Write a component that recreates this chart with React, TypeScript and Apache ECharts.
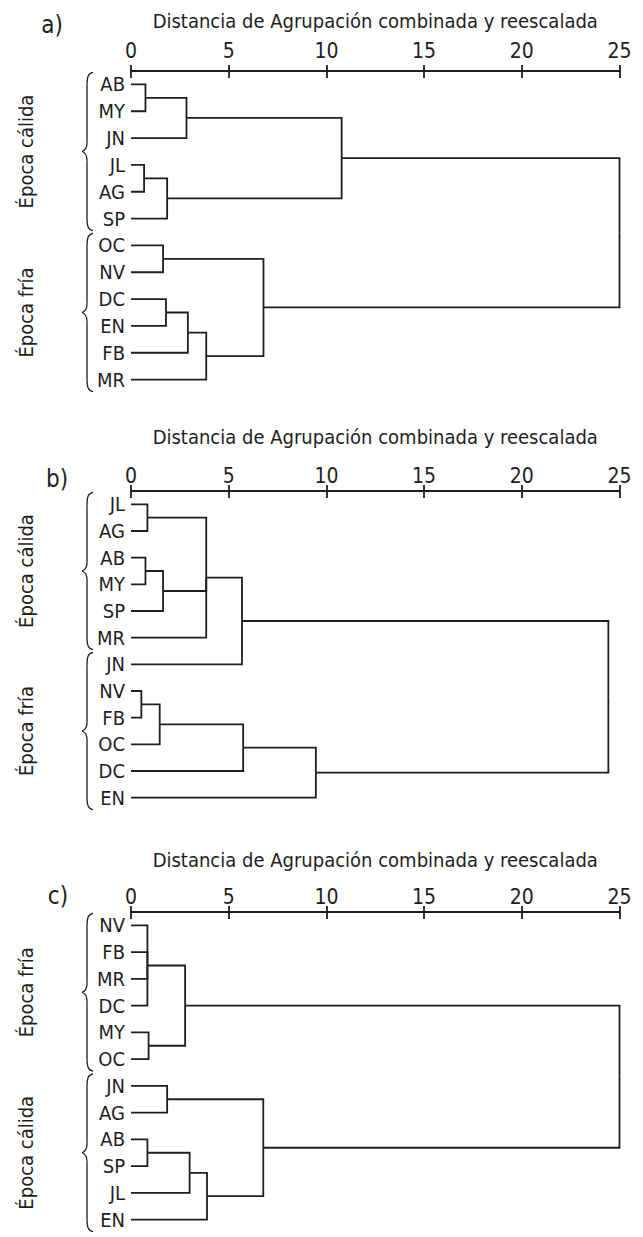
import React, { useEffect, useRef } from "react";
import * as echarts from "echarts";

const FONT = '"Liberation Sans Narrow", "Arial Narrow", "DejaVu Sans Condensed", sans-serif';
const INK = "#1e1e1e";

// shared axis
const AXIS_MIN = 0;
const AXIS_MAX = 25;
const AXIS_STEP = 5;
const axisTitle = "Distancia de Agrupación combinada y reescalada";
const panelLetters = ["a)", "b)", "c)"];

// panel a
const leavesA = ["AB", "MY", "JN", "JL", "AG", "SP", "OC", "NV", "DC", "EN", "FB", "MR"];
const mergeChildrenA = [[0, 1], [12, 2], [3, 4], [14, 5], [13, 15], [6, 7], [8, 9], [18, 10], [19, 11], [17, 20], [16, 21]];
const mergeHeightsA = [0.74, 2.84, 0.67, 1.85, 10.78, 1.64, 1.79, 2.91, 3.85, 6.78, 25];
const groupNamesA = ["Época cálida", "Época fría"];
const groupRangesA = [[0, 5], [6, 11]];

// panel b
const leavesB = ["JL", "AG", "AB", "MY", "SP", "MR", "JN", "NV", "FB", "OC", "DC", "EN"];
const mergeChildrenB = [[0, 1], [2, 3], [13, 4], [12, 14, 5], [15, 6], [7, 8], [17, 9], [18, 10], [19, 11], [16, 20]];
const mergeHeightsB = [0.84, 0.74, 1.64, 3.85, 5.68, 0.53, 1.47, 5.74, 9.46, 24.43];
const groupNamesB = ["Época cálida", "Época fría"];
const groupRangesB = [[0, 5], [6, 11]];

// panel c
const leavesC = ["NV", "FB", "MR", "DC", "MY", "OC", "JN", "AG", "AB", "SP", "JL", "EN"];
const mergeChildrenC = [[0, 1, 2, 3], [4, 5], [12, 13], [6, 7], [8, 9], [16, 10], [17, 11], [15, 18], [14, 19]];
const mergeHeightsC = [0.84, 0.9, 2.77, 1.85, 0.84, 3.0, 3.89, 6.77, 25];
const groupNamesC = ["Época fría", "Época cálida"];
const groupRangesC = [[0, 5], [6, 11]];

const panelsData = [
  { leaves: leavesA, children: mergeChildrenA, heights: mergeHeightsA, groups: groupNamesA, ranges: groupRangesA },
  { leaves: leavesB, children: mergeChildrenB, heights: mergeHeightsB, groups: groupNamesB, ranges: groupRangesB },
  { leaves: leavesC, children: mergeChildrenC, heights: mergeHeightsC, groups: groupNamesC, ranges: groupRangesC },
];

// layout (pixels)
const FS = 20;
const layout = [
  { top: 71, height: 322, nameGap: 40, labelMargin: 10, letter: [52, 25] },
  { top: 491, height: 320, nameGap: 44, labelMargin: 5, letter: [57, 479] },
  { top: 912, height: 321, nameGap: 42, labelMargin: 5, letter: [58, 896] },
];

function buildSegments(nLeaves: number, children: number[][], heights: number[]) {
  const ys: number[] = [];
  const hs: number[] = [];
  for (let i = 0; i < nLeaves; i++) {
    ys.push(i);
    hs.push(0);
  }
  const segs: any[] = [];
  children.forEach((ch, k) => {
    const h = heights[k];
    const cy = ch.map((c) => ys[c]);
    const yNode = (Math.min(...cy) + Math.max(...cy)) / 2;
    ch.forEach((c) => {
      segs.push({ coords: [[hs[c], ys[c]], [h, ys[c]], [h, yNode]] });
    });
    ys.push(yNode);
    hs.push(h);
  });
  return segs;
}

function brace(top: number, bot: number) {
  const mid = (top + bot) / 2;
  const xe = 93, xs = 87, xt = 82;
  const st = { stroke: INK, lineWidth: 1.3, fill: null };
  return [
    { type: "bezierCurve", shape: { x1: xe, y1: top, cpx1: xs + 1, cpy1: top + 1, cpx2: xs, cpy2: top + 5, x2: xs, y2: top + 12 }, style: st },
    { type: "line", shape: { x1: xs, y1: top + 12, x2: xs, y2: mid - 9 }, style: st },
    { type: "bezierCurve", shape: { x1: xs, y1: mid - 9, cpx1: xs, cpy1: mid - 3, cpx2: xs - 2, cpy2: mid - 1, x2: xt, y2: mid }, style: st },
    { type: "bezierCurve", shape: { x1: xt, y1: mid, cpx1: xs - 2, cpy1: mid + 1, cpx2: xs, cpy2: mid + 3, x2: xs, y2: mid + 9 }, style: st },
    { type: "line", shape: { x1: xs, y1: mid + 9, x2: xs, y2: bot - 12 }, style: st },
    { type: "bezierCurve", shape: { x1: xs, y1: bot - 12, cpx1: xs, cpy1: bot - 5, cpx2: xs + 1, cpy2: bot - 1, x2: xe, y2: bot }, style: st },
  ];
}

export default function App() {
  const ref = useRef<HTMLDivElement>(null);
  useEffect(() => {
    if (!ref.current) return;
    const chart = echarts.init(ref.current, null, { renderer: "svg" });
    const grid: any[] = [];
    const xAxis: any[] = [];
    const yAxis: any[] = [];
    const series: any[] = [];
    panelsData.forEach((p, i) => {
      const L = layout[i];
      grid.push({ left: 131, right: 23.5, top: L.top, height: L.height, containLabel: false });
      xAxis.push({
        type: "value", gridIndex: i, position: "top", min: AXIS_MIN, max: AXIS_MAX, interval: AXIS_STEP,
        name: axisTitle, nameLocation: "middle", nameGap: L.nameGap,
        nameTextStyle: { fontFamily: FONT, fontSize: FS, color: INK },
        axisLine: { show: true, onZero: false, lineStyle: { color: INK, width: 1.8 } },
        axisTick: { show: true, inside: false, length: 6, lineStyle: { color: INK, width: 1.8 } },
        axisLabel: { show: true, fontFamily: FONT, fontSize: FS + 1, color: INK, margin: L.labelMargin },
        splitLine: { show: false },
      });
      xAxis.push({
        type: "value", gridIndex: i, position: "top", min: AXIS_MIN, max: AXIS_MAX, interval: AXIS_STEP,
        axisLine: { show: false, onZero: false },
        axisTick: { show: true, inside: true, length: 7, lineStyle: { color: INK, width: 1.8 } },
        axisLabel: { show: false },
        splitLine: { show: false },
      });
      yAxis.push({
        type: "category", gridIndex: i, data: p.leaves, inverse: true, boundaryGap: true,
        axisLine: { show: false, onZero: false }, axisTick: { show: false },
        axisLabel: { interval: 0, fontFamily: FONT, fontSize: FS, color: INK, margin: 6 },
        splitLine: { show: false },
      });
      yAxis.push({
        type: "value", gridIndex: i, min: -0.5, max: p.leaves.length - 0.5, inverse: true, show: false,
        axisLine: { onZero: false }, splitLine: { show: false },
      });
      series.push({
        type: "lines", coordinateSystem: "cartesian2d", xAxisIndex: 2 * i, yAxisIndex: 2 * i + 1,
        polyline: true, silent: true,
        lineStyle: { color: INK, width: 1.8, opacity: 1, join: "miter" },
        data: buildSegments(p.leaves.length, p.children, p.heights),
      });
    });
    chart.setOption({ animation: false, backgroundColor: "#ffffff", grid, xAxis, yAxis, series });

    const graphic: any[] = [];
    panelsData.forEach((p, i) => {
      const L = layout[i];
      graphic.push({
        type: "text", x: L.letter[0], y: L.letter[1],
        style: { text: panelLetters[i], fontFamily: FONT, fontSize: 24, fill: INK, align: "center", verticalAlign: "middle" },
      });
      p.ranges.forEach((r, g) => {
        const top = chart.convertToPixel({ xAxisIndex: 2 * i, yAxisIndex: 2 * i + 1 }, [0, r[0] - 0.45])[1];
        const bot = chart.convertToPixel({ xAxisIndex: 2 * i, yAxisIndex: 2 * i + 1 }, [0, r[1] + 0.45])[1];
        graphic.push(...brace(top, bot));
        graphic.push({
          type: "text", x: 26, y: (top + bot) / 2, rotation: Math.PI / 2,
          style: { text: p.groups[g], fontFamily: FONT, fontSize: FS, fill: INK, align: "center", verticalAlign: "middle" },
        });
      });
    });
    chart.setOption({ graphic });
    return () => chart.dispose();
  }, []);
  return <div ref={ref} style={{ position: "absolute", left: 0, top: 0, width: 643, height: 1237 }} />;
}
